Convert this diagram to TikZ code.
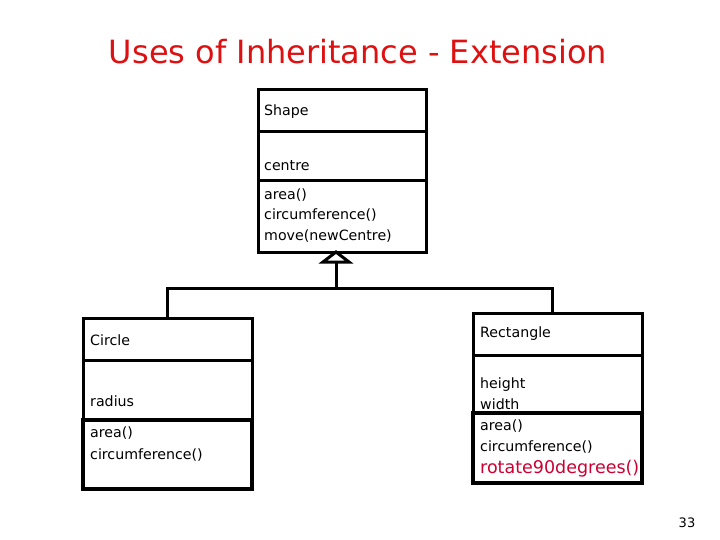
\documentclass[tikz,border=0pt]{standalone}
\usepackage{fontspec}
\setmainfont{DejaVu Sans}
\definecolor{titlered}{RGB}{221,17,17}
\definecolor{opred}{RGB}{204,0,51}
\begin{document}
\begin{tikzpicture}[x=1pt,y=-1pt,
  comp/.style={draw, line width=3pt, anchor=north west, minimum width=168pt, inner sep=0pt, outer sep=0pt},
  opcomp/.style={comp, line width=3.6pt},
  lbl/.style={anchor=west, inner sep=0pt, font=\fontsize{14.2}{16}\selectfont},
  conn/.style={line width=3pt},
  tri/.style={draw, line width=3pt, fill=white, line join=miter}]
\useasboundingbox[fill=white] (0,0) rectangle (720,540);
% title
\node[text=titlered, font=\fontsize{32}{36}\selectfont, inner sep=0pt] (title) at (358,52) {Uses of Inheritance - Extension};
% Shape class
\node[comp, minimum height=42pt] (shN) at (258,90) {};
\node[comp, minimum height=49pt] (shA) at (258,132) {};
\node[comp, minimum height=71pt] (shO) at (258,181) {};
\node[lbl] (t1) at (264,112) {Shape};
\node[lbl] (t2) at (264,166) {centre};
\node[lbl] (t3) at (264,195) {area()};
\node[lbl] (t4) at (264,215) {circumference()};
\node[lbl] (t5) at (264,236) {move(newCentre)};
% Circle class
\node[comp, minimum width=169pt, minimum height=42pt] (ciN) at (83,318) {};
\node[comp, minimum width=169pt, minimum height=60pt] (ciA) at (83,360) {};
\node[opcomp, minimum width=169pt, minimum height=69pt] (ciO) at (83,420) {};
\node[lbl] (c1) at (90,340) {Circle};
\node[lbl] (c2) at (90,401) {radius};
\node[lbl] (c3) at (90,433) {area()};
\node[lbl] (c4) at (90,455) {circumference()};
% Rectangle class
\node[comp, minimum width=169pt, minimum height=42pt] (reN) at (473,313) {};
\node[comp, minimum width=169pt, minimum height=58pt] (reA) at (473,355) {};
\node[opcomp, minimum width=169pt, minimum height=70pt] (reO) at (473,413) {};
\node[lbl] (r1) at (480,334) {Rectangle};
\node[lbl] (r2) at (480,385) {height};
\node[lbl] (r3) at (480,404) {width};
\node[lbl] (r4) at (480,426) {area()};
\node[lbl] (r5) at (480,447) {circumference()};
\node[lbl, text=opred, font=\fontsize{17.5}{20}\selectfont] (r6) at (480,469) {rotate90degrees()};
% page number
\node[font=\fontsize{13}{15}\selectfont, inner sep=0pt] (pg) at (687,523) {33};
% inheritance connectors
\coordinate (apex) at ([xshift=-6pt]shO.south);
\coordinate (tribase) at ([yshift=-10pt]apex);
\coordinate (junc) at (apex |- 0,288);
\draw[conn] (tribase) -- (junc);
\draw[conn] ([xshift=-0.5pt]ciN.north) |- (junc) -| ([xshift=-5.5pt]reN.north);
\draw[tri] (apex) -- ([xshift=-13pt]tribase) -- ([xshift=13pt]tribase) -- cycle;
\end{tikzpicture}
\end{document}
